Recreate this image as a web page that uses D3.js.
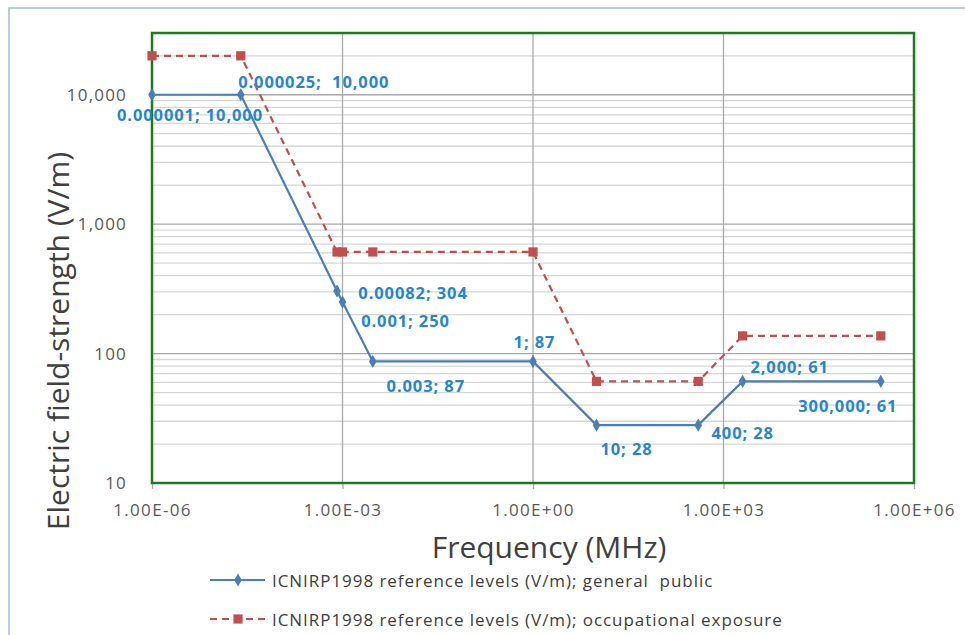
<!DOCTYPE html>
<html><head><meta charset="utf-8">
<script src="https://cdn.jsdelivr.net/npm/d3@7/dist/d3.min.js"></script>
<style>body{margin:0;background:#fff}svg{display:block}</style>
</head><body><svg id="c" width="965" height="635"></svg>
<script>
// ---- data ----
const freqPublic  = [1e-6, 2.5e-5, 8.2e-4, 0.001, 0.003, 1, 10, 400, 2000, 300000];
const fieldPublic = [10000, 10000, 304, 250, 87, 87, 28, 28, 61, 61];
const freqOccup   = [1e-6, 2.5e-5, 8.2e-4, 0.001, 0.003, 1, 10, 400, 2000, 300000];
const fieldOccup  = [20000, 20000, 610, 610, 610, 610, 61, 61, 137, 137];
const publicLabels = ["0.000001; 10,000", "0.000025;  10,000", "0.00082; 304", "0.001; 250",
  "0.003; 87", "1; 87", "10; 28", "400; 28", "2,000; 61", "300,000; 61"];
const xTicks = [1e-6, 1e-3, 1, 1e3, 1e6];
const xTickLabels = ["1.00E-06", "1.00E-03", "1.00E+00", "1.00E+03", "1.00E+06"];
const yTicks = [10, 100, 1000, 10000];
const yTickLabels = ["10", "100", "1,000", "10,000"];
const seriesNames = ["ICNIRP1998 reference levels (V/m); general  public",
  "ICNIRP1998 reference levels (V/m); occupational exposure"];
const xTitle = "Frequency (MHz)";
const yTitle = "Electric field-strength (V/m)";

// ---- layout ----
const L = 152, R = 914, T = 33, B = 483;
const svg = d3.select("#c");
const font = "'Open Sans', sans-serif";
const x = d3.scaleLog().domain([1e-6, 1e6]).range([L, R]);
const y = d3.scaleLog().domain([10, 30000]).range([B, T]);

// outer chart border
svg.append("rect").attr("x", 9).attr("y", 8).attr("width", 980).attr("height", 700)
  .attr("fill", "none").attr("stroke", "#9dbbe3").attr("stroke-width", 1.5);

// minor horizontal gridlines
const minor = [];
for (let d = 10; d <= 10000; d *= 10) for (let m = 2; m <= 9; m++) if (d * m < 30000) minor.push(d * m);
svg.append("g").selectAll("line").data(minor).join("line")
  .attr("x1", L).attr("x2", R).attr("y1", d => y(d)).attr("y2", d => y(d))
  .attr("stroke", "#d6d6d6").attr("stroke-width", 1.3);
// major horizontal gridlines
svg.append("g").selectAll("line").data(yTicks.slice(1)).join("line")
  .attr("x1", L).attr("x2", R).attr("y1", d => y(d)).attr("y2", d => y(d))
  .attr("stroke", "#a8a8a8").attr("stroke-width", 1.3);
// vertical gridlines
svg.append("g").selectAll("line").data(xTicks.slice(1, -1)).join("line")
  .attr("x1", d => x(d)).attr("x2", d => x(d)).attr("y1", T).attr("y2", B)
  .attr("stroke", "#a8a8a8").attr("stroke-width", 1.3);

// x axis
const xa = svg.append("g").attr("transform", `translate(0,${B})`)
  .call(d3.axisBottom(x).tickValues(xTicks).tickFormat((d, i) => xTickLabels[i]).tickSize(6).tickPadding(15));
xa.select(".domain").remove();
xa.selectAll("line").attr("stroke", "#a8a8a8").attr("stroke-width", 1.3);
xa.selectAll("text").attr("font-family", font).attr("font-size", 17).attr("fill", "#595959")
  .style("letter-spacing", "1.3px");

// y axis
const ya = svg.append("g").attr("transform", `translate(${L},0)`)
  .call(d3.axisLeft(y).tickValues(yTicks).tickFormat((d, i) => yTickLabels[i]).tickSize(0).tickPadding(25));
ya.select(".domain").remove();
ya.selectAll("text").attr("font-family", font).attr("font-size", 17).attr("fill", "#595959")
  .style("letter-spacing", "1.2px");

// plot border
svg.append("rect").attr("x", L).attr("y", T).attr("width", R - L).attr("height", B - T)
  .attr("fill", "none").attr("stroke", "#1f7a1f").attr("stroke-width", 2.5);

// series
const pub = freqPublic.map((f, i) => [f, fieldPublic[i]]);
const occ = freqOccup.map((f, i) => [f, fieldOccup[i]]);
const line = d3.line().x(d => x(d[0])).y(d => y(d[1]));
const blue = "#4a7ebb", red = "#c0504d";

svg.append("path").attr("d", line(occ)).attr("fill", "none").attr("stroke", red)
  .attr("stroke-width", 2.2).attr("stroke-dasharray", "7,5");
svg.append("g").selectAll("path").data(occ).join("path")
  .attr("d", d3.symbol(d3.symbolSquare, 85))
  .attr("transform", d => `translate(${x(d[0])},${y(d[1])})`).attr("fill", red);

svg.append("path").attr("d", line(pub)).attr("fill", "none").attr("stroke", blue).attr("stroke-width", 2.2);
svg.append("g").selectAll("path").data(pub).join("path")
  .attr("d", d3.symbol(d3.symbolDiamond, 50))
  .attr("transform", d => `translate(${x(d[0])},${y(d[1])})`).attr("fill", blue);

// data labels (offsets from their points)
const labelOffsets = [[38, 20], [73, -13], [76, 2], [63, 19], [53, 24.5], [1.5, -19.5], [30, 24], [44.5, 8], [47, -14.5], [-33, 24.5]];
svg.append("g").selectAll("text").data(pub).join("text")
  .attr("x", (d, i) => x(d[0]) + labelOffsets[i][0])
  .attr("y", (d, i) => y(d[1]) + labelOffsets[i][1])
  .attr("dy", "0.36em").attr("text-anchor", "middle")
  .attr("font-family", font).attr("font-weight", "bold").attr("font-size", 16.5)
  .attr("fill", "#2486d0").style("white-space", "pre").style("letter-spacing", "0.9px")
  .text((d, i) => publicLabels[i]);

// axis titles
svg.append("text").attr("x", 549).attr("y", 558).attr("text-anchor", "middle")
  .attr("font-family", font).attr("font-size", 30).attr("fill", "#404040").text(xTitle);
svg.append("text").attr("transform", "translate(69,341) rotate(-90)").attr("text-anchor", "middle")
  .attr("font-family", font).attr("font-size", 30).attr("fill", "#404040").text(yTitle);

// legend
const lg = svg.append("g");
const legendY = [580, 619];
[0, 1].forEach(i => {
  const col = i === 0 ? blue : red;
  lg.append("line").attr("x1", 210).attr("x2", 265).attr("y1", legendY[i]).attr("y2", legendY[i])
    .attr("stroke", col).attr("stroke-width", 2.2).attr("stroke-dasharray", i === 0 ? null : "7,5");
  lg.append("path").attr("d", d3.symbol(i === 0 ? d3.symbolDiamond : d3.symbolSquare, i === 0 ? 50 : 85))
    .attr("transform", `translate(238,${legendY[i]})`).attr("fill", col);
  lg.append("text").attr("x", 272).attr("y", legendY[i] + 7).attr("font-family", font).attr("font-size", 17)
    .attr("fill", "#404040").style("white-space", "pre").style("letter-spacing", "0.95px").text(seriesNames[i]);
});
</script>
</body></html>
